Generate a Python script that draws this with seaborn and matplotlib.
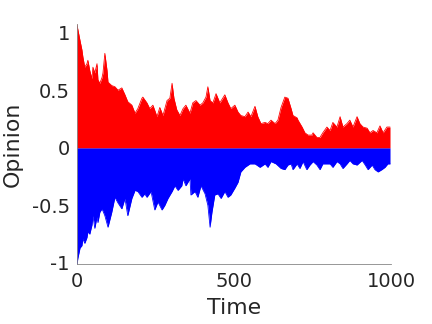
import numpy as np
import pandas as pd
import matplotlib
matplotlib.use("Agg")
import matplotlib.pyplot as plt
import seaborn as sns

# Upper envelope of the red (positive) opinions
red_time = [0, 10, 16, 19, 25, 32, 35, 41, 48, 51, 57, 64, 67, 73, 80, 83, 89, 96, 99,
            111, 121, 131, 143, 153, 162, 175, 185, 194, 207, 210, 223, 232, 242, 255,
            264, 274, 287, 296, 303, 309, 318, 328, 338, 347, 360, 369, 379, 392, 401,
            411, 417, 424, 433, 443, 455, 471, 481, 490, 503, 513, 522, 535, 545, 554,
            567, 576, 586, 599, 608, 618, 631, 640, 650, 662, 672, 682, 688, 701, 704,
            717, 726, 736, 748, 752, 764, 774, 783, 796, 806, 815, 828, 838, 847, 860,
            869, 879, 892, 901, 911, 924, 933, 943, 955, 965, 975, 987, 997]
red_top = [1.07, 0.93, 0.85, 0.79, 0.70, 0.73, 0.76, 0.67, 0.60, 0.70, 0.65, 0.73, 0.59,
           0.56, 0.61, 0.65, 0.82, 0.67, 0.57, 0.54, 0.53, 0.50, 0.52, 0.46, 0.40, 0.37,
           0.30, 0.34, 0.43, 0.44, 0.39, 0.34, 0.37, 0.27, 0.35, 0.28, 0.41, 0.43, 0.56,
           0.43, 0.33, 0.28, 0.34, 0.37, 0.30, 0.39, 0.41, 0.37, 0.39, 0.44, 0.53, 0.41,
           0.39, 0.47, 0.39, 0.46, 0.39, 0.34, 0.37, 0.31, 0.28, 0.27, 0.31, 0.27, 0.36,
           0.27, 0.21, 0.22, 0.21, 0.24, 0.21, 0.24, 0.35, 0.44, 0.43, 0.34, 0.28, 0.26,
           0.24, 0.18, 0.13, 0.11, 0.11, 0.13, 0.09, 0.09, 0.13, 0.18, 0.15, 0.22, 0.18,
           0.27, 0.18, 0.21, 0.24, 0.18, 0.27, 0.21, 0.18, 0.17, 0.13, 0.15, 0.13, 0.19,
           0.13, 0.18, 0.18]

# Lower envelope of the blue (negative) opinions
blue_time = [0, 3, 10, 16, 19, 25, 32, 35, 41, 48, 51, 57, 64, 67, 73, 80, 89, 99, 111,
             121, 131, 143, 153, 162, 175, 185, 194, 207, 216, 223, 236, 248, 258, 271,
             280, 290, 303, 312, 322, 334, 338, 347, 360, 363, 376, 385, 395, 408, 417,
             424, 430, 439, 449, 459, 471, 481, 490, 503, 513, 522, 535, 551, 567, 583,
             599, 608, 618, 634, 650, 662, 672, 682, 688, 701, 710, 720, 732, 742, 752,
             764, 774, 783, 806, 815, 828, 838, 847, 860, 869, 879, 892, 908, 918, 927,
             940, 949, 959, 971, 981, 990, 997]
blue_bottom = [-1.02, -0.96, -0.87, -0.85, -0.79, -0.83, -0.78, -0.73, -0.75, -0.67,
               -0.59, -0.70, -0.60, -0.65, -0.56, -0.53, -0.59, -0.69, -0.56, -0.43,
               -0.48, -0.53, -0.44, -0.59, -0.44, -0.37, -0.38, -0.43, -0.40, -0.43,
               -0.38, -0.54, -0.47, -0.54, -0.50, -0.44, -0.38, -0.33, -0.37, -0.33,
               -0.27, -0.33, -0.27, -0.41, -0.38, -0.43, -0.33, -0.40, -0.50, -0.69,
               -0.56, -0.41, -0.40, -0.44, -0.38, -0.43, -0.41, -0.35, -0.30, -0.21,
               -0.17, -0.14, -0.14, -0.17, -0.14, -0.17, -0.12, -0.14, -0.18, -0.19,
               -0.15, -0.14, -0.19, -0.14, -0.18, -0.12, -0.19, -0.15, -0.12, -0.15,
               -0.19, -0.14, -0.14, -0.17, -0.12, -0.14, -0.18, -0.14, -0.11, -0.14,
               -0.15, -0.11, -0.15, -0.19, -0.15, -0.19, -0.21, -0.19, -0.17, -0.14,
               -0.14]

red_df = pd.DataFrame({"Time": red_time, "Opinion": red_top})
blue_df = pd.DataFrame({"Time": blue_time, "Opinion": blue_bottom})

sns.set_style("white")
plt.rcParams["font.family"] = ["DejaVu Sans"]
text_col = "#262626"
axis_col = "#808080"

fig = plt.figure(figsize=(6, 4.5), dpi=72)
ax = fig.add_axes([0.178, 0.185, 0.727, 0.741])

# blue below zero
ax.fill_between(blue_df["Time"], 0, blue_df["Opinion"], color="#0000ff", lw=0)
sns.lineplot(data=blue_df, x="Time", y="Opinion", color="#0000ff", lw=0.8, ax=ax)
# red above zero
ax.fill_between(red_df["Time"], 0, red_df["Opinion"], color="#ff0000", lw=0)
sns.lineplot(data=red_df, x="Time", y="Opinion", color="#ff0000", lw=0.8, ax=ax)

ax.set_xlim(0, 1000)
ax.set_ylim(-1.01, 1.075)
ax.set_xticks([0, 500, 1000])
ax.set_yticks([-1, -0.5, 0, 0.5, 1])
ax.set_yticklabels(["-1", "-0.5", "0", "0.5", "1"])

sns.despine(ax=ax)
for s in ["left", "bottom"]:
    ax.spines[s].set_color(axis_col)
    ax.spines[s].set_linewidth(0.8)

ax.tick_params(direction="in", length=4, width=0.8, color=axis_col,
               labelsize=19.5, labelcolor=text_col)
ax.tick_params(axis="x", pad=8)
ax.tick_params(axis="y", pad=7)
ax.set_xlabel("Time", fontsize=22, color=text_col, labelpad=7)
ax.set_ylabel("Opinion", fontsize=22, color=text_col, labelpad=9)

fig.savefig("out.png", dpi=72)
